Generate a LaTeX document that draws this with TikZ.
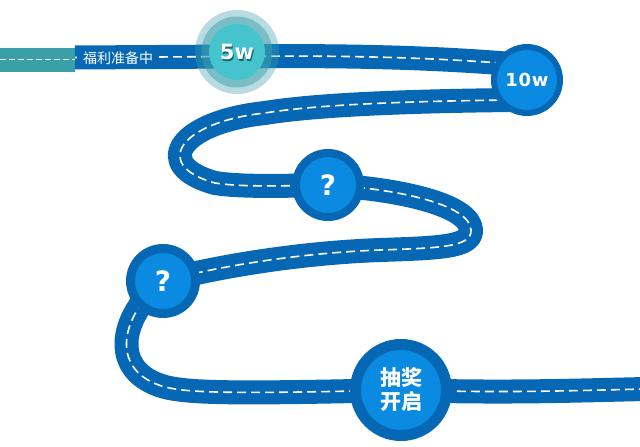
\documentclass[tikz,border=0pt]{standalone}
\usepackage{fontspec}
\newfontfamily\cjk{Noto Sans CJK SC}
\newfontfamily\numfont{DejaVu Sans}
\definecolor{roadblue}{RGB}{6,104,180}
\definecolor{innerblue}{RGB}{10,138,224}
\definecolor{roadteal}{RGB}{58,160,168}
\definecolor{halo}{RGB}{60,160,172}
\definecolor{tealin}{RGB}{70,196,206}
\definecolor{tealshadow}{RGB}{20,105,115}
\tikzset{
  road/.style={draw=roadblue, line width=24pt, line join=round},
  lane/.style={draw=white, line width=1.6pt, dash pattern=on 9pt off 5pt},
  milestone/.style={circle, draw=roadblue, fill=innerblue, inner sep=0pt, outer sep=0pt, text=white},
  numtext/.style={font=\numfont\bfseries\fontsize{#1}{#1}\selectfont},
  widetext/.style={font=\numfont\bfseries\fontsize{#1}{#1}\selectfont\addfontfeatures{LetterSpace=4}},
}
\begin{document}
\begin{tikzpicture}[x=1pt,y=-1pt]
\useasboundingbox[fill=white] (0,0) rectangle (640,447);
% key points
\coordinate (c5) at (237,52);
\coordinate (c10) at (527,80);
\coordinate (cq1) at (328,185);
\coordinate (cq2) at (163,281);
\coordinate (cp) at (401,390);
\coordinate (lstart) at (0,59.5);
\coordinate (tealend) at (75,59.5);
\coordinate (bluestart) at (75,57.5);
\coordinate (r5) at (237,56.5);
\coordinate (j1) at (512,64);
\coordinate (j2) at (512,100);
\coordinate (rend) at (645,389);
% roads
\path[road, draw=roadteal, postaction={lane, dash pattern=on 6pt off 3pt}] (lstart) -- (tealend);
\path[road, postaction={lane}] (bluestart) -- (r5) .. controls (350,55) and (440,58) .. (j1);
\path[road, postaction={lane}] (j2) .. controls (420,101) and (320,104) .. (265,113)
   .. controls (180,122) and (150,165) .. (215,183)
   .. controls (240,187) and (280,186) .. (cq1);
\path[road, postaction={lane}] (cq1) .. controls (400,189) and (470,205) .. (471,230)
   .. controls (472,247) and (440,248) .. (380,250)
   .. controls (300,253) and (220,266) .. (cq2);
\path[road, postaction={lane}] (cq2) .. controls (118,318) and (110,372) .. (165,387)
   .. controls (190,393) and (230,394) .. (cp);
\path[road, postaction={lane}] (cp) .. controls (500,393) and (560,391) .. (rend);
% label on the road
\node[fill=roadblue, text=white, inner xsep=6pt, inner ysep=0pt, minimum height=21pt,
      font=\cjk\fontsize{14}{14}\selectfont] (lbl) at (118,58.5) {福利准备中};
% 5w milestone with halo
\fill[halo, opacity=0.37] (c5) circle[radius=42pt];
\fill[halo, opacity=0.5] (c5) circle[radius=35.5pt];
\fill[tealin] (c5) circle[radius=28pt];
\node[numtext=21, text=tealshadow] at ([shift={(1,1.5)}]c5) {5w};
\node[numtext=21, text=white] (n5w) at (c5) {5w};
% other milestones
\node[milestone, minimum size=66pt, line width=6pt, widetext=18] (n10) at (c10) {10w};
\node[milestone, minimum size=64pt, line width=8pt, numtext=28] (q1) at (cq1) {?};
\node[milestone, minimum size=65pt, line width=9pt, numtext=28] (q2) at (cq2) {?};
\node[milestone, minimum size=91pt, line width=11pt, align=center,
      font=\cjk\bfseries\fontsize{21}{24}\selectfont] (prize) at (cp) {抽奖\\开启};
\end{tikzpicture}
\end{document}
